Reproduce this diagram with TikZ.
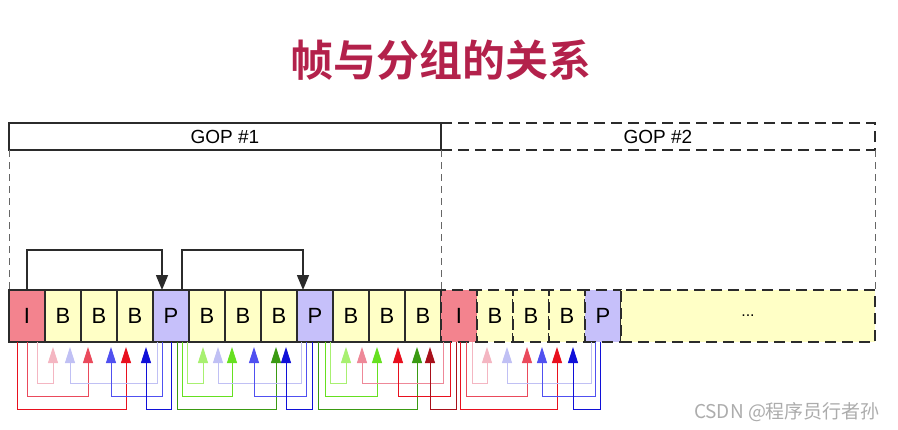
\documentclass[tikz,border=0pt]{standalone}
\usepackage{fontspec}
\setmainfont{Liberation Sans}
\newfontfamily\cjk{Noto Sans CJK SC}
\newfontfamily\cjkbold{Noto Sans CJK SC Bold}
\usetikzlibrary{arrows.meta,positioning,calc}
\definecolor{Title}{HTML}{B3214B}
\definecolor{Edge}{HTML}{2B2B2B}
\definecolor{IFill}{HTML}{F3838E}
\definecolor{BFill}{HTML}{FFFFC6}
\definecolor{PFill}{HTML}{C6C0FA}
\definecolor{PinkL}{HTML}{F4B6C2}
\definecolor{PinkM}{HTML}{EE8898}
\definecolor{RedM}{HTML}{EA4A5C}
\definecolor{RedB}{HTML}{E8101E}
\definecolor{RedD}{HTML}{A8101A}
\definecolor{LavL}{HTML}{C0C0F4}
\definecolor{BlueM}{HTML}{5050F0}
\definecolor{BlueD}{HTML}{1010D8}
\definecolor{GreenL}{HTML}{A8F070}
\definecolor{GreenM}{HTML}{66E020}
\definecolor{GreenD}{HTML}{3A9A12}
\tikzset{
  frame/.style={draw=Edge, line width=1.6pt, minimum width=36pt, minimum height=52pt, inner sep=0pt, outer sep=0pt, anchor=north west, font=\fontsize{22}{22}\selectfont},
  frameI/.style={frame, fill=IFill},
  frameB/.style={frame, fill=BFill},
  frameP/.style={frame, fill=PFill},
  gop/.style={draw=Edge, line width=2pt, minimum height=27pt, inner sep=0pt, outer sep=0pt, anchor=north west, font=\fontsize{19}{19}\selectfont},
  later/.style={dash pattern=on 11pt off 6pt},
  guide/.style={draw=gray!80!black, line width=0.7pt, dash pattern=on 7pt off 5pt},
  jump/.style={-{Triangle[width=12pt,length=15pt]}, line width=1.5pt, draw=Edge},
  refline/.style={-{Triangle[width=10pt,length=16pt]}, line width=0.9pt, shorten >=5pt}
}
\begin{document}
\begin{tikzpicture}[x=1pt, y=-1pt]
\useasboundingbox (0,0) rectangle (898,429);
\node[font=\cjkbold\fontsize{43}{43}\selectfont, text=Title] (title) at (441,60) {帧与分组的关系};
% GOP headers
\node[gop, minimum width=432pt] (gop1) at (9,123) {GOP \#1};
\node[gop, later, minimum width=434pt] (gop2) at (441,123) {GOP \#2};
% frames
\foreach \t [count=\i from 0] in {I,B,B,B,P,B,B,B,P,B,B,B}
  \node[frame\t] (f\i) at ({9+36*\i},290) {\t};
\foreach \t [count=\i from 12] in {I,B,B,B,P}
  \node[frame\t, later] (f\i) at ({9+36*\i},290) {\t};
\node[frameB, later, minimum width=254pt, font=\fontsize{16}{16}\selectfont] (rest) at (621,290) {...};
\draw[guide] (gop1.south west) -- (f0.north west);
\draw[guide] (gop1.south east) -- (f11.north east);
\draw[guide] (gop2.south east) -- (rest.north east);
% P references
\draw[jump] ([xshift=18]f0.north west) -- ++(0,-40) -| ([xshift=9]f4.north west);
\draw[jump] ([xshift=29]f4.north west) -- ++(0,-40) -| ([xshift=6]f8.north west);
% B references
\foreach \c/\a/\p/\b/\q/\d in {
  PinkL/f0/28/f1/8/41, RedM/f0/18/f2/7/54, RedB/f0/8/f3/9/67,
  LavL/f4/4/f1/25/41, BlueM/f4/9/f2/30/54, BlueD/f4/18/f3/29/67,
  GreenL/f4/34/f5/14/41, GreenM/f4/29/f6/7/54, GreenD/f4/24/f7/15/67,
  LavL/f8/4/f5/29/41, BlueM/f8/9/f6/29/54, BlueD/f8/15/f7/25/67,
  GreenL/f8/33/f9/13/41, GreenM/f8/28/f10/8/54, GreenD/f8/21/f11/12/67,
  PinkM/f12/2/f9/29/41, RedB/f12/9/f10/29/54, RedD/f12/15/f11/25/67,
  PinkL/f12/31/f13/10/41, RedM/f12/25/f14/14/54, RedB/f12/19/f15/8/67,
  LavL/f16/6/f13/30/41, BlueM/f16/10/f14/29/54, BlueD/f16/15/f15/24/67}
  \draw[refline, color=\c] ([xshift=\p]\a.south west) -- ++(0,\d) -| ([xshift=\q]\b.south west);
\node[font=\cjk\fontsize{19}{19}\selectfont, text=gray!65] (mark) at (787,412) {CSDN @程序员行者孙};
\end{tikzpicture}
\end{document}
